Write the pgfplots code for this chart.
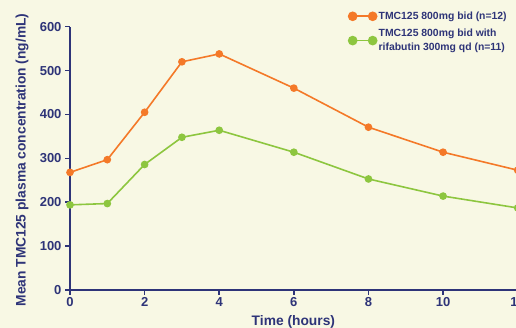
\documentclass[border=0pt]{standalone}
\usepackage{fontspec}
\setmainfont{Liberation Sans}
\usepackage{pgfplots}
\pgfplotsset{compat=1.18}
\definecolor{bg}{RGB}{248,248,228}
\definecolor{navy}{RGB}{46,52,120}
\definecolor{orng}{RGB}{244,121,40}
\definecolor{grn}{RGB}{141,198,63}
\begin{document}
\begin{tikzpicture}[x=1pt,y=1pt]
\useasboundingbox (0,0) rectangle (516,328);
\fill[bg] (0,0) rectangle (516,328);
\begin{axis}[
  at={(70pt,38pt)}, anchor=south west,
  scale only axis, width=447.7pt, height=263.3pt,
  xmin=0, xmax=12, ymin=0, ymax=600,
  axis lines*=left,
  axis line style={navy, line width=2pt},
  tick align=outside, major tick length=5pt,
  tick style={navy, line width=1.5pt},
  xtick={0,2,4,6,8,10,12}, ytick={0,100,200,300,400,500,600},
  /pgf/number format/assume math mode=true,
  tick label style={font=\bfseries\fontsize{13}{13}\selectfont, text=navy},
  xticklabel style={yshift=1pt},
  xlabel={Time (hours)}, ylabel={Mean TMC125 plasma concentration (ng/mL)},
  label style={font=\bfseries\fontsize{13.8}{13.8}\selectfont, text=navy},
  xlabel style={at={(axis description cs:0.499,-0.1215)}, anchor=center},
  ylabel style={at={(axis description cs:-0.107,0.494)}, anchor=center, rotate=0},
  clip=false,
  legend style={at={(axis description cs:0.622,1.065)}, anchor=north west,
    draw=none, fill=none, inner sep=0pt, row sep=4pt,
    font=\bfseries\fontsize{10.4}{14.5}\selectfont, text=navy,
    cells={align=left}},
  legend cell align=left,
  legend image code/.code={\draw[#1, mark size=4pt] plot coordinates {(0pt,0pt) (20pt,0pt)};},
]
\addplot[orng, line width=1.6pt, mark=*, mark size=3pt] coordinates {
(0,268) (1,297) (2,405) (3,520) (4,538) (6,460) (8,371) (10,314) (12,273)};
\addlegendentry{TMC125 800mg bid (n=12)}
\addplot[grn, line width=1.6pt, mark=*, mark size=3pt] coordinates {
(0,194) (1,197) (2,286) (3,348) (4,364) (6,314) (8,253) (10,214) (12,187)};
\addlegendentry{TMC125 800mg bid with\\rifabutin 300mg qd (n=11)}
\end{axis}
\end{tikzpicture}
\end{document}
